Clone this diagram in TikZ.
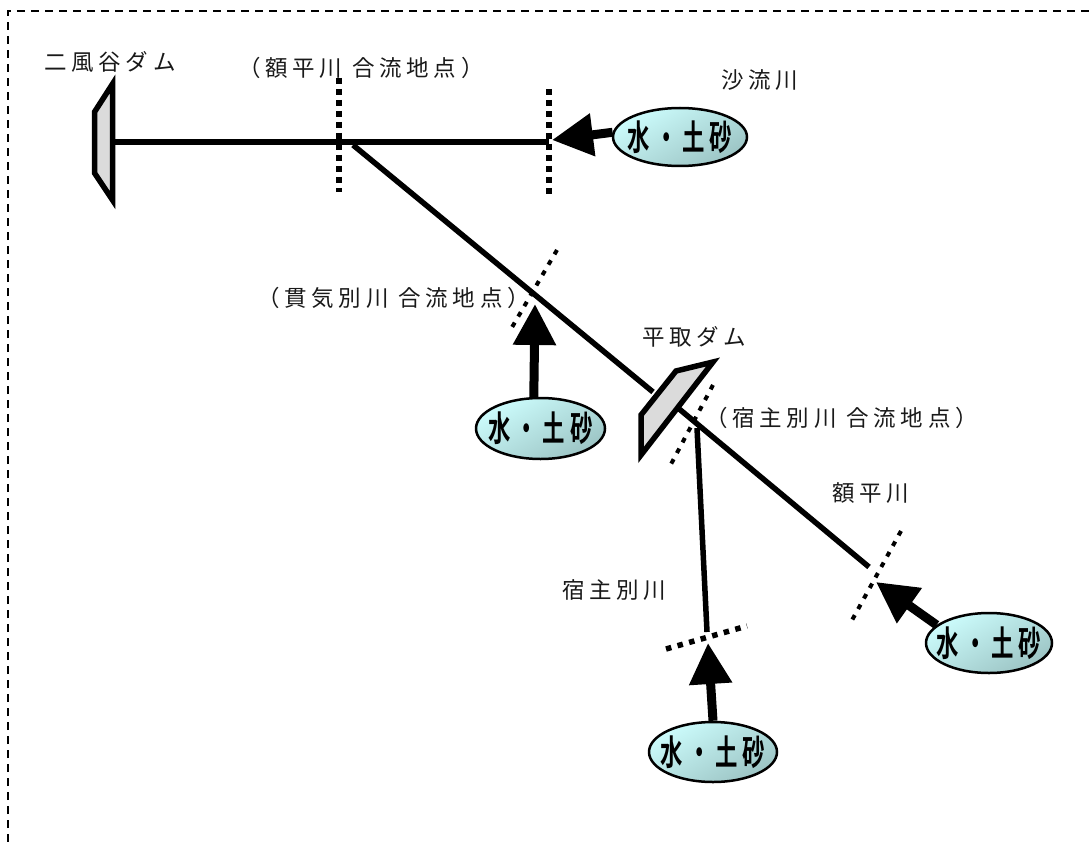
\documentclass[tikz,border=0pt]{standalone}
\usepackage{fontspec}
\usepackage{graphicx}
\setmainfont{Noto Sans CJK JP}
\newfontfamily\lbl[LetterSpace=21]{Noto Sans CJK JP}
\newfontfamily\blk[LetterSpace=22]{Noto Sans CJK JP Bold}
\usetikzlibrary{arrows.meta,shapes.geometric}
\definecolor{lightaqua}{HTML}{CCFCFC}
\definecolor{darkaqua}{HTML}{9CC4C4}
\newcommand{\srctext}{\makebox[0pt]{\raisebox{-3pt}{\scalebox{0.64}[1]{水・土砂}}}}
\tikzset{
 frameline/.style={line width=1.8pt,dash pattern=on 8pt off 6pt},
 river/.style={line width=5.5pt},
 dotv/.style={line width=6pt,dash pattern=on 6pt off 5pt},
 dotd/.style={line width=4pt,dash pattern=on 5pt off 7pt},
 flow/.style={line width=9pt,-{Triangle[length=41pt,width=41pt]}},
 source/.style={ellipse,draw,line width=2.5pt,inner sep=0pt,
   top color=lightaqua,bottom color=darkaqua,shading angle=30,font=\blk\fontsize{35}{35}\selectfont},
 dam/.style={draw,line width=5.5pt,fill=black!14,miter limit=10},
 lab/.style={font=\lbl\fontsize{22.5}{25}\selectfont,inner sep=0pt,text=black!90},
}
\begin{document}
\begin{tikzpicture}[x=1pt,y=-1pt]
\useasboundingbox (0,0) rectangle (1091,842);
\fill[white] (0,0) rectangle (1091,842);
\coordinate (f1) at (8,842); \coordinate (f2) at (8,11); \coordinate (f3) at (1091,11);
\draw[frameline] (f1) -- (f2) -- (f3);
% river lines
\coordinate (damA) at (112,142); \coordinate (conf1) at (549,142);
\draw[river] (damA) -- (conf1);
\coordinate (r2a) at (353,145); \coordinate (r2b) at (653,392);
\draw[river] (r2a) -- (r2b);
\coordinate (r3a) at (678,408); \coordinate (r3b) at (869,567);
\draw[river] (r3a) -- (r3b);
\coordinate (r4a) at (697,428); \coordinate (r4b) at (707,632);
\draw[river] (r4a) -- (r4b);
% dotted cross lines
\coordinate (d1a) at (339,78); \coordinate (d1b) at (339,192);
\coordinate (d2a) at (549,89); \coordinate (d2b) at (549,195);
\draw[dotv] (d1a) -- (d1b);
\draw[dotv] (d2a) -- (d2b);
\coordinate (d3a) at (557,250); \coordinate (d3b) at (511,329);
\coordinate (d4a) at (713,385); \coordinate (d4b) at (670,466);
\coordinate (d5a) at (901,531); \coordinate (d5b) at (851,622);
\coordinate (d6a) at (666,649); \coordinate (d6b) at (747,626);
\draw[dotd] (d3a) -- (d3b);
\draw[dotd] (d4a) -- (d4b);
\draw[dotd] (d5a) -- (d5b);
\draw[line width=5.5pt,dash pattern=on 5.5pt off 6.5pt] (d6a) -- (d6b);
% dams
\draw[dam] (112.5,84) -- (112.5,200) -- (94.5,173) -- (94.5,112) -- cycle;
\draw[dam] (713,362) -- (641,455) -- (641,415) -- (676,371) -- cycle;
% sources
\node[source,minimum width=134pt,minimum height=58pt] (s1) at (680,137) {\srctext};
\node[source,minimum width=129pt,minimum height=61pt] (s2) at (540.5,428.5) {\srctext};
\node[source,minimum width=126pt,minimum height=60pt] (s3) at (989,643) {\srctext};
\node[source,minimum width=128pt,minimum height=60pt] (s4) at (713,752) {\srctext};
% flows
\coordinate (t1) at (552,140); \coordinate (t2) at (535,304);
\coordinate (t3) at (876,582); \coordinate (t4) at (708,643);
\draw[flow] (s1.176) -- (t1);
\draw[flow] (s2.102) -- (t2);
\draw[flow] (s3.161) -- (t3);
\draw[flow] (s4.90) -- (t4);
% labels
\node[lab,anchor=west] (l1) at (44,62) {二風谷ダム};
\node[lab,anchor=west] (l2) at (238,68) {（額平川 合流地点）};
\node[lab,anchor=west] (l3) at (721,80) {沙流川};
\node[lab,anchor=west] (l4) at (257,298) {（貫気別川 合流地点）};
\node[lab,anchor=west] (l5) at (642,337) {平取ダム};
\node[lab,anchor=west] (l6) at (705,418) {（宿主別川 合流地点）};
\node[lab,anchor=west] (l7) at (832,493) {額平川};
\node[lab,anchor=west] (l8) at (562,590) {宿主別川};
\end{tikzpicture}
\end{document}
